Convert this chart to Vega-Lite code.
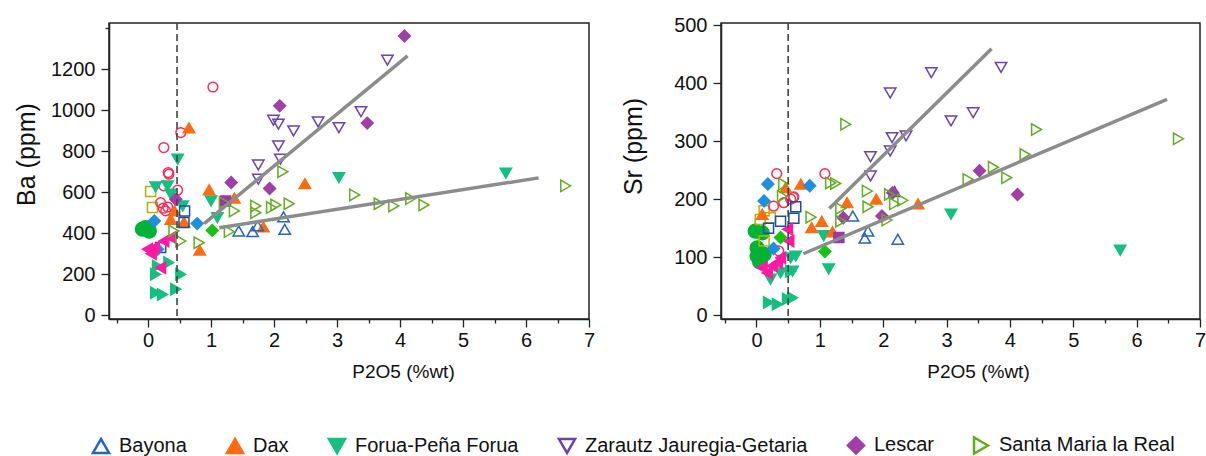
{
 "$schema": "https://vega.github.io/schema/vega-lite/v6.json",
 "padding": {"left": 13, "top": 14, "right": 4, "bottom": 0},
 "bounds": "flush",
 "spacing": 132,
 "config": {
  "view": {"stroke": "#222", "strokeWidth": 1.5},
  "font": "Liberation Sans",
  "axis": {"grid": false, "domainColor": "#222", "tickColor": "#222", "labelColor": "#111", "titleColor": "#111", "labelFontSize": 20, "titleFontWeight": "normal", "domainWidth": 1.5, "tickWidth": 1.3, "labelFont": "Liberation Sans", "titleFont": "Liberation Sans"},
  "legend": {"labelFont": "Liberation Sans"}
 },
 "datasets": {
  "pts": [
   {"panel":"Ba","site":"Green circle","p":-0.04,"v":427},{"panel":"Ba","site":"Green circle","p":-0.09,"v":420},{"panel":"Ba","site":"Green circle","p":0.02,"v":411},
   {"panel":"Ba","site":"Teal triangle","p":0.15,"v":240},{"panel":"Ba","site":"Teal triangle","p":0.33,"v":257},{"panel":"Ba","site":"Teal triangle","p":0.52,"v":200},{"panel":"Ba","site":"Teal triangle","p":0.12,"v":200},{"panel":"Ba","site":"Teal triangle","p":0.12,"v":110},{"panel":"Ba","site":"Teal triangle","p":0.23,"v":102},{"panel":"Ba","site":"Teal triangle","p":0.44,"v":127},
   {"panel":"Ba","site":"Olive square","p":0.04,"v":603},{"panel":"Ba","site":"Olive square","p":0.07,"v":525},
   {"panel":"Ba","site":"Red circle","p":1.03,"v":1113},{"panel":"Ba","site":"Red circle","p":0.52,"v":891},{"panel":"Ba","site":"Red circle","p":0.25,"v":818},{"panel":"Ba","site":"Red circle","p":0.32,"v":696},{"panel":"Ba","site":"Red circle","p":0.33,"v":688},{"panel":"Ba","site":"Red circle","p":0.47,"v":610},{"panel":"Ba","site":"Red circle","p":0.25,"v":631},{"panel":"Ba","site":"Red circle","p":0.2,"v":549},{"panel":"Ba","site":"Red circle","p":0.24,"v":522},{"panel":"Ba","site":"Red circle","p":0.28,"v":509},{"panel":"Ba","site":"Red circle","p":0.31,"v":528},
   {"panel":"Ba","site":"Forua-Peña Forua","p":5.68,"v":693},{"panel":"Ba","site":"Forua-Peña Forua","p":3.03,"v":671},{"panel":"Ba","site":"Forua-Peña Forua","p":1.0,"v":558},{"panel":"Ba","site":"Forua-Peña Forua","p":1.1,"v":476},{"panel":"Ba","site":"Forua-Peña Forua","p":0.47,"v":761},{"panel":"Ba","site":"Forua-Peña Forua","p":0.12,"v":626},{"panel":"Ba","site":"Forua-Peña Forua","p":0.31,"v":631},{"panel":"Ba","site":"Forua-Peña Forua","p":0.36,"v":590},{"panel":"Ba","site":"Forua-Peña Forua","p":0.55,"v":533},
   {"panel":"Ba","site":"Dax","p":0.65,"v":914},{"panel":"Ba","site":"Dax","p":0.97,"v":612},{"panel":"Ba","site":"Dax","p":1.37,"v":571},{"panel":"Ba","site":"Dax","p":2.49,"v":642},{"panel":"Ba","site":"Dax","p":1.83,"v":431},{"panel":"Ba","site":"Dax","p":0.82,"v":318},{"panel":"Ba","site":"Dax","p":0.42,"v":509},{"panel":"Ba","site":"Dax","p":0.36,"v":468},{"panel":"Ba","site":"Dax","p":0.57,"v":455},
   {"panel":"Ba","site":"Navy square","p":0.57,"v":452},{"panel":"Ba","site":"Navy square","p":0.58,"v":509},{"panel":"Ba","site":"Navy square","p":0.2,"v":330},
   {"panel":"Ba","site":"Blue diamond","p":0.78,"v":447},{"panel":"Ba","site":"Blue diamond","p":0.1,"v":460},{"panel":"Ba","site":"Blue diamond","p":0.15,"v":322},
   {"panel":"Ba","site":"Pink triangle","p":-0.01,"v":322},{"panel":"Ba","site":"Pink triangle","p":0.1,"v":330},{"panel":"Ba","site":"Pink triangle","p":0.25,"v":362},{"panel":"Ba","site":"Pink triangle","p":0.36,"v":379},{"panel":"Ba","site":"Pink triangle","p":0.2,"v":232},{"panel":"Ba","site":"Pink triangle","p":0.05,"v":300},
   {"panel":"Ba","site":"Green diamond","p":1.02,"v":414},
   {"panel":"Ba","site":"Purple square","p":1.23,"v":557},
   {"panel":"Ba","site":"Bayona","p":1.44,"v":411},{"panel":"Ba","site":"Bayona","p":1.66,"v":408},{"panel":"Ba","site":"Bayona","p":1.74,"v":436},{"panel":"Ba","site":"Bayona","p":2.15,"v":480},{"panel":"Ba","site":"Bayona","p":2.17,"v":419},
   {"panel":"Ba","site":"Zarautz Jauregia-Getaria","p":3.8,"v":1244},{"panel":"Ba","site":"Zarautz Jauregia-Getaria","p":1.99,"v":951},{"panel":"Ba","site":"Zarautz Jauregia-Getaria","p":2.07,"v":932},{"panel":"Ba","site":"Zarautz Jauregia-Getaria","p":2.31,"v":899},{"panel":"Ba","site":"Zarautz Jauregia-Getaria","p":2.7,"v":943},{"panel":"Ba","site":"Zarautz Jauregia-Getaria","p":3.03,"v":915},{"panel":"Ba","site":"Zarautz Jauregia-Getaria","p":3.38,"v":993},{"panel":"Ba","site":"Zarautz Jauregia-Getaria","p":2.07,"v":826},{"panel":"Ba","site":"Zarautz Jauregia-Getaria","p":2.1,"v":761},{"panel":"Ba","site":"Zarautz Jauregia-Getaria","p":1.75,"v":733},{"panel":"Ba","site":"Zarautz Jauregia-Getaria","p":1.75,"v":663},
   {"panel":"Ba","site":"Lescar","p":4.07,"v":1362},{"panel":"Ba","site":"Lescar","p":2.09,"v":1021},{"panel":"Ba","site":"Lescar","p":3.48,"v":937},{"panel":"Ba","site":"Lescar","p":1.32,"v":647},{"panel":"Ba","site":"Lescar","p":1.93,"v":618},{"panel":"Ba","site":"Lescar","p":0.44,"v":566},
   {"panel":"Ba","site":"Santa Maria la Real","p":2.14,"v":700},{"panel":"Ba","site":"Santa Maria la Real","p":3.28,"v":587},{"panel":"Ba","site":"Santa Maria la Real","p":1.21,"v":549},{"panel":"Ba","site":"Santa Maria la Real","p":1.37,"v":509},{"panel":"Ba","site":"Santa Maria la Real","p":1.71,"v":533},{"panel":"Ba","site":"Santa Maria la Real","p":1.71,"v":500},{"panel":"Ba","site":"Santa Maria la Real","p":2.03,"v":538},{"panel":"Ba","site":"Santa Maria la Real","p":1.96,"v":525},{"panel":"Ba","site":"Santa Maria la Real","p":2.24,"v":544},{"panel":"Ba","site":"Santa Maria la Real","p":3.67,"v":544},{"panel":"Ba","site":"Santa Maria la Real","p":3.9,"v":533},{"panel":"Ba","site":"Santa Maria la Real","p":4.17,"v":569},{"panel":"Ba","site":"Santa Maria la Real","p":4.38,"v":538},{"panel":"Ba","site":"Santa Maria la Real","p":1.29,"v":408},{"panel":"Ba","site":"Santa Maria la Real","p":0.81,"v":354},{"panel":"Ba","site":"Santa Maria la Real","p":0.52,"v":362},{"panel":"Ba","site":"Santa Maria la Real","p":0.41,"v":411},{"panel":"Ba","site":"Santa Maria la Real","p":6.63,"v":631},

   {"panel":"Sr","site":"Green circle","p":-0.02,"v":145},{"panel":"Sr","site":"Green circle","p":0.09,"v":142},{"panel":"Sr","site":"Green circle","p":0.01,"v":116},{"panel":"Sr","site":"Green circle","p":0.01,"v":102},{"panel":"Sr","site":"Green circle","p":0.12,"v":105},{"panel":"Sr","site":"Green circle","p":0.05,"v":92},
   {"panel":"Sr","site":"Teal triangle","p":0.19,"v":22},{"panel":"Sr","site":"Teal triangle","p":0.33,"v":19},{"panel":"Sr","site":"Teal triangle","p":0.49,"v":28},{"panel":"Sr","site":"Teal triangle","p":0.57,"v":30},{"panel":"Sr","site":"Teal triangle","p":0.54,"v":76},
   {"panel":"Sr","site":"Olive square","p":0.12,"v":180},{"panel":"Sr","site":"Olive square","p":0.06,"v":165},{"panel":"Sr","site":"Olive square","p":0.22,"v":168},{"panel":"Sr","site":"Olive square","p":0.12,"v":128},
   {"panel":"Sr","site":"Red circle","p":1.08,"v":244},{"panel":"Sr","site":"Red circle","p":0.58,"v":203},{"panel":"Sr","site":"Red circle","p":0.32,"v":244},{"panel":"Sr","site":"Red circle","p":0.27,"v":188},{"panel":"Sr","site":"Red circle","p":0.43,"v":194},{"panel":"Sr","site":"Red circle","p":0.54,"v":200},{"panel":"Sr","site":"Red circle","p":0.59,"v":204},{"panel":"Sr","site":"Red circle","p":0.35,"v":111},
   {"panel":"Sr","site":"Forua-Peña Forua","p":3.07,"v":174},{"panel":"Sr","site":"Forua-Peña Forua","p":5.74,"v":112},{"panel":"Sr","site":"Forua-Peña Forua","p":1.06,"v":137},{"panel":"Sr","site":"Forua-Peña Forua","p":1.14,"v":80},{"panel":"Sr","site":"Forua-Peña Forua","p":0.54,"v":99},{"panel":"Sr","site":"Forua-Peña Forua","p":0.62,"v":102},{"panel":"Sr","site":"Forua-Peña Forua","p":0.38,"v":73},{"panel":"Sr","site":"Forua-Peña Forua","p":0.57,"v":76},{"panel":"Sr","site":"Forua-Peña Forua","p":0.22,"v":62},
   {"panel":"Sr","site":"Dax","p":0.7,"v":226},{"panel":"Sr","site":"Dax","p":1.89,"v":200},{"panel":"Sr","site":"Dax","p":1.43,"v":194},{"panel":"Sr","site":"Dax","p":2.55,"v":192},{"panel":"Sr","site":"Dax","p":1.03,"v":162},{"panel":"Sr","site":"Dax","p":0.87,"v":151},{"panel":"Sr","site":"Dax","p":1.2,"v":144},{"panel":"Sr","site":"Dax","p":0.46,"v":220},{"panel":"Sr","site":"Dax","p":0.09,"v":174},
   {"panel":"Sr","site":"Navy square","p":0.62,"v":187},{"panel":"Sr","site":"Navy square","p":0.59,"v":167},{"panel":"Sr","site":"Navy square","p":0.38,"v":162},{"panel":"Sr","site":"Navy square","p":0.19,"v":150},
   {"panel":"Sr","site":"Blue diamond","p":0.84,"v":223},{"panel":"Sr","site":"Blue diamond","p":0.18,"v":226},{"panel":"Sr","site":"Blue diamond","p":0.12,"v":197},{"panel":"Sr","site":"Blue diamond","p":0.27,"v":115},
   {"panel":"Sr","site":"Pink triangle","p":0.49,"v":148},{"panel":"Sr","site":"Pink triangle","p":0.51,"v":128},{"panel":"Sr","site":"Pink triangle","p":0.09,"v":82},{"panel":"Sr","site":"Pink triangle","p":0.25,"v":85},{"panel":"Sr","site":"Pink triangle","p":0.33,"v":91},{"panel":"Sr","site":"Pink triangle","p":0.38,"v":99},{"panel":"Sr","site":"Pink triangle","p":0.17,"v":73},
   {"panel":"Sr","site":"Green diamond","p":1.08,"v":110},{"panel":"Sr","site":"Green diamond","p":0.38,"v":134},
   {"panel":"Sr","site":"Purple square","p":1.3,"v":134},
   {"panel":"Sr","site":"Bayona","p":2.18,"v":213},{"panel":"Sr","site":"Bayona","p":1.52,"v":171},{"panel":"Sr","site":"Bayona","p":1.76,"v":145},{"panel":"Sr","site":"Bayona","p":1.71,"v":133},{"panel":"Sr","site":"Bayona","p":2.23,"v":131},
   {"panel":"Sr","site":"Zarautz Jauregia-Getaria","p":2.76,"v":418},{"panel":"Sr","site":"Zarautz Jauregia-Getaria","p":3.86,"v":427},{"panel":"Sr","site":"Zarautz Jauregia-Getaria","p":2.11,"v":383},{"panel":"Sr","site":"Zarautz Jauregia-Getaria","p":3.07,"v":335},{"panel":"Sr","site":"Zarautz Jauregia-Getaria","p":3.42,"v":349},{"panel":"Sr","site":"Zarautz Jauregia-Getaria","p":2.14,"v":306},{"panel":"Sr","site":"Zarautz Jauregia-Getaria","p":2.36,"v":309},{"panel":"Sr","site":"Zarautz Jauregia-Getaria","p":2.11,"v":283},{"panel":"Sr","site":"Zarautz Jauregia-Getaria","p":1.8,"v":273},{"panel":"Sr","site":"Zarautz Jauregia-Getaria","p":1.8,"v":240},
   {"panel":"Sr","site":"Lescar","p":3.52,"v":249},{"panel":"Sr","site":"Lescar","p":4.12,"v":208},{"panel":"Sr","site":"Lescar","p":2.15,"v":211},{"panel":"Sr","site":"Lescar","p":1.37,"v":168},{"panel":"Sr","site":"Lescar","p":1.98,"v":171},
   {"panel":"Sr","site":"Santa Maria la Real","p":1.41,"v":329},{"panel":"Sr","site":"Santa Maria la Real","p":4.42,"v":320},{"panel":"Sr","site":"Santa Maria la Real","p":4.24,"v":277},{"panel":"Sr","site":"Santa Maria la Real","p":3.74,"v":255},{"panel":"Sr","site":"Santa Maria la Real","p":3.95,"v":237},{"panel":"Sr","site":"Santa Maria la Real","p":3.34,"v":234},{"panel":"Sr","site":"Santa Maria la Real","p":1.17,"v":228},{"panel":"Sr","site":"Santa Maria la Real","p":1.25,"v":227},{"panel":"Sr","site":"Santa Maria la Real","p":1.75,"v":214},{"panel":"Sr","site":"Santa Maria la Real","p":2.1,"v":208},{"panel":"Sr","site":"Santa Maria la Real","p":2.31,"v":198},{"panel":"Sr","site":"Santa Maria la Real","p":2.18,"v":192},{"panel":"Sr","site":"Santa Maria la Real","p":1.76,"v":187},{"panel":"Sr","site":"Santa Maria la Real","p":1.33,"v":184},{"panel":"Sr","site":"Santa Maria la Real","p":0.86,"v":169},{"panel":"Sr","site":"Santa Maria la Real","p":1.33,"v":162},{"panel":"Sr","site":"Santa Maria la Real","p":2.06,"v":164},{"panel":"Sr","site":"Santa Maria la Real","p":6.66,"v":304},{"panel":"Sr","site":"Santa Maria la Real","p":0.43,"v":226},{"panel":"Sr","site":"Santa Maria la Real","p":0.41,"v":205}
  ],
  "fits": [
   {"panel":"Ba","id":"a","p":0.89,"v":447},{"panel":"Ba","id":"a","p":4.12,"v":1265},
   {"panel":"Ba","id":"b","p":1.13,"v":427},{"panel":"Ba","id":"b","p":6.2,"v":670},
   {"panel":"Sr","id":"a","p":1.15,"v":184},{"panel":"Sr","id":"a","p":3.71,"v":459},
   {"panel":"Sr","id":"b","p":0.74,"v":106},{"panel":"Sr","id":"b","p":6.48,"v":372}
  ],
  "dash": [{"panel":"Ba","p":0.46},{"panel":"Sr","p":0.5}]
 },
 "hconcat": [
  {
   "width": 480, "height": 296,
   "resolve": {"axis": {"x": "independent"}},
   "layer": [
    {
     "data": {"name": "pts"},
     "transform": [{"filter": "datum.panel === 'Ba'"}],
     "mark": {"type": "point", "strokeWidth": 1.5, "opacity": 1},
     "encoding": {
      "x": {"field": "p", "type": "quantitative", "scale": {"domain": [-0.62, 7], "nice": false, "zero": false},
        "axis": {"orient": "bottom", "values": [0,1,2,3,4,5,6,7], "format": "d", "tickSize": 8, "labelOverlap": false, "labelFlush": false, "labelPadding": 3, "title": "P2O5 (%wt)", "titleFontSize": 19, "titleX": 294, "titleY": 52, "titleBaseline": "middle"}},
      "y": {"field": "v", "type": "quantitative", "scale": {"domain": [-18, 1425], "nice": false, "zero": false},
        "axis": {"values": [0,100,200,300,400,500,600,700,800,900,1000,1100,1200,1300,1400], "labelOverlap": false, "labelExpr": "datum.value % 200 === 0 && datum.value < 1300 ? format(datum.value, 'd') : ''", "tickSize": {"condition": {"test": "datum.value % 200 === 0 && datum.value < 1300", "value": 8}, "value": 4}, "labelPadding": 6, "title": "Ba (ppm)", "titleFontSize": 25, "titleX": -83, "titleY": 131, "titleBaseline": "middle"}},
      "shape": {"field": "site", "type": "nominal", "scale": {"domain": ["Bayona","Dax","Forua-Peña Forua","Zarautz Jauregia-Getaria","Lescar","Santa Maria la Real","Red circle","Blue diamond","Navy square","Olive square","Green circle","Pink triangle","Green diamond","Teal triangle","Purple square"], "range": ["triangle-up","triangle-up","triangle-down","triangle-down","diamond","triangle-right","circle","diamond","square","square","circle","triangle-left","diamond","triangle-right","square"]},
        "legend": {"values": ["Bayona","Dax","Forua-Peña Forua","Zarautz Jauregia-Getaria","Lescar","Santa Maria la Real"], "title": null, "orient": "none", "legendX": -18, "legendY": 412, "direction": "horizontal", "labelFontSize": 20, "labelLimit": 400, "symbolSize": 260, "symbolStrokeWidth": 2.5, "columnPadding": 34, "labelOffset": 8, "labelColor": "#111"}},
      "stroke": {"field": "site", "type": "nominal", "scale": {"domain": ["Bayona","Dax","Forua-Peña Forua","Zarautz Jauregia-Getaria","Lescar","Santa Maria la Real","Red circle","Blue diamond","Navy square","Olive square","Green circle","Pink triangle","Green diamond","Teal triangle","Purple square"], "range": ["#2463c4","#ff6b12","#13c07f","#6b41b5","#a03fa6","#62ad22","#ff2a55","#1d8fe0","#1a4f9e","#b5b300","#00b336","#ff1aa3","#14c414","#13c07f","#9b35a8"]},
        "legend": {"values": ["Bayona","Dax","Forua-Peña Forua","Zarautz Jauregia-Getaria","Lescar","Santa Maria la Real"], "title": null, "orient": "none", "legendX": -18, "legendY": 412, "direction": "horizontal", "labelFontSize": 20, "labelLimit": 400, "symbolSize": 260, "symbolStrokeWidth": 2.5, "columnPadding": 34, "labelOffset": 8, "labelColor": "#111"}},
      "fill": {"field": "site", "type": "nominal", "scale": {"domain": ["Bayona","Dax","Forua-Peña Forua","Zarautz Jauregia-Getaria","Lescar","Santa Maria la Real","Red circle","Blue diamond","Navy square","Olive square","Green circle","Pink triangle","Green diamond","Teal triangle","Purple square"], "range": ["transparent","#ff6b12","#13c07f","transparent","#a03fa6","transparent","transparent","#1d8fe0","transparent","transparent","#00b336","#ff1aa3","#14c414","#13c07f","#9b35a8"]},
        "legend": {"values": ["Bayona","Dax","Forua-Peña Forua","Zarautz Jauregia-Getaria","Lescar","Santa Maria la Real"], "title": null, "orient": "none", "legendX": -18, "legendY": 412, "direction": "horizontal", "labelFontSize": 20, "labelLimit": 400, "symbolSize": 260, "symbolStrokeWidth": 2.5, "columnPadding": 34, "labelOffset": 8, "labelColor": "#111"}},
      "size": {"condition": [{"test": "datum.site === 'Green circle'", "value": 190}, {"test": "datum.site === 'Red circle'", "value": 95}, {"test": "datum.site === 'Navy square' || datum.site === 'Olive square' || datum.site === 'Purple square'", "value": 100}, {"test": "datum.site === 'Lescar' || datum.site === 'Blue diamond' || datum.site === 'Green diamond'", "value": 140}], "value": 130}
     }
    },
    {
     "data": {"name": "fits"},
     "transform": [{"filter": "datum.panel === 'Ba'"}],
     "mark": {"type": "line", "color": "#8c8c8c", "strokeWidth": 3.5},
     "encoding": {"x": {"field": "p", "type": "quantitative", "axis": null}, "y": {"field": "v", "type": "quantitative"}, "detail": {"field": "id"}}
    },
    {
     "data": {"name": "dash"},
     "transform": [{"filter": "datum.panel === 'Ba'"}],
     "mark": {"type": "rule", "color": "#444", "strokeWidth": 1.6, "strokeDash": [7, 4]},
     "encoding": {"x": {"field": "p", "type": "quantitative",
        "axis": {"orient": "bottom", "values": [-0.5,0.5,1.5,2.5,3.5,4.5,5.5,6.5], "labels": false, "domain": false, "tickSize": 4, "title": null}}}
    }
   ]
  },
  {
   "width": 479, "height": 296,
   "resolve": {"axis": {"x": "independent"}},
   "layer": [
    {
     "data": {"name": "pts"},
     "transform": [{"filter": "datum.panel === 'Sr'"}],
     "mark": {"type": "point", "strokeWidth": 1.5, "opacity": 1},
     "encoding": {
      "x": {"field": "p", "type": "quantitative", "scale": {"domain": [-0.56, 7], "nice": false, "zero": false},
        "axis": {"orient": "bottom", "values": [0,1,2,3,4,5,6,7], "format": "d", "tickSize": 8, "labelOverlap": false, "labelFlush": false, "labelPadding": 3, "title": "P2O5 (%wt)", "titleFontSize": 19, "titleX": 257, "titleY": 52, "titleBaseline": "middle"}},
      "y": {"field": "v", "type": "quantitative", "scale": {"domain": [-6.4, 503.5], "nice": false, "zero": false},
        "axis": {"values": [0,50,100,150,200,250,300,350,400,450,500], "labelOverlap": false, "labelExpr": "datum.value % 100 === 0 ? format(datum.value, 'd') : ''", "tickSize": {"condition": {"test": "datum.value % 100 === 0", "value": 8}, "value": 4}, "labelPadding": 6, "title": "Sr (ppm)", "titleFontSize": 25, "titleX": -88, "titleY": 123, "titleBaseline": "middle"}},
      "shape": {"field": "site", "type": "nominal", "scale": {"domain": ["Bayona","Dax","Forua-Peña Forua","Zarautz Jauregia-Getaria","Lescar","Santa Maria la Real","Red circle","Blue diamond","Navy square","Olive square","Green circle","Pink triangle","Green diamond","Teal triangle","Purple square"], "range": ["triangle-up","triangle-up","triangle-down","triangle-down","diamond","triangle-right","circle","diamond","square","square","circle","triangle-left","diamond","triangle-right","square"]},
        "legend": {"values": ["Bayona","Dax","Forua-Peña Forua","Zarautz Jauregia-Getaria","Lescar","Santa Maria la Real"], "title": null, "orient": "none", "legendX": -18, "legendY": 412, "direction": "horizontal", "labelFontSize": 20, "labelLimit": 400, "symbolSize": 260, "symbolStrokeWidth": 2.5, "columnPadding": 34, "labelOffset": 8, "labelColor": "#111"}},
      "stroke": {"field": "site", "type": "nominal", "scale": {"domain": ["Bayona","Dax","Forua-Peña Forua","Zarautz Jauregia-Getaria","Lescar","Santa Maria la Real","Red circle","Blue diamond","Navy square","Olive square","Green circle","Pink triangle","Green diamond","Teal triangle","Purple square"], "range": ["#2463c4","#ff6b12","#13c07f","#6b41b5","#a03fa6","#62ad22","#ff2a55","#1d8fe0","#1a4f9e","#b5b300","#00b336","#ff1aa3","#14c414","#13c07f","#9b35a8"]},
        "legend": {"values": ["Bayona","Dax","Forua-Peña Forua","Zarautz Jauregia-Getaria","Lescar","Santa Maria la Real"], "title": null, "orient": "none", "legendX": -18, "legendY": 412, "direction": "horizontal", "labelFontSize": 20, "labelLimit": 400, "symbolSize": 260, "symbolStrokeWidth": 2.5, "columnPadding": 34, "labelOffset": 8, "labelColor": "#111"}},
      "fill": {"field": "site", "type": "nominal", "scale": {"domain": ["Bayona","Dax","Forua-Peña Forua","Zarautz Jauregia-Getaria","Lescar","Santa Maria la Real","Red circle","Blue diamond","Navy square","Olive square","Green circle","Pink triangle","Green diamond","Teal triangle","Purple square"], "range": ["transparent","#ff6b12","#13c07f","transparent","#a03fa6","transparent","transparent","#1d8fe0","transparent","transparent","#00b336","#ff1aa3","#14c414","#13c07f","#9b35a8"]},
        "legend": {"values": ["Bayona","Dax","Forua-Peña Forua","Zarautz Jauregia-Getaria","Lescar","Santa Maria la Real"], "title": null, "orient": "none", "legendX": -18, "legendY": 412, "direction": "horizontal", "labelFontSize": 20, "labelLimit": 400, "symbolSize": 260, "symbolStrokeWidth": 2.5, "columnPadding": 34, "labelOffset": 8, "labelColor": "#111"}},
      "size": {"condition": [{"test": "datum.site === 'Green circle'", "value": 190}, {"test": "datum.site === 'Red circle'", "value": 95}, {"test": "datum.site === 'Navy square' || datum.site === 'Olive square' || datum.site === 'Purple square'", "value": 100}, {"test": "datum.site === 'Lescar' || datum.site === 'Blue diamond' || datum.site === 'Green diamond'", "value": 140}], "value": 130}
     }
    },
    {
     "data": {"name": "fits"},
     "transform": [{"filter": "datum.panel === 'Sr'"}],
     "mark": {"type": "line", "color": "#8c8c8c", "strokeWidth": 3.5},
     "encoding": {"x": {"field": "p", "type": "quantitative", "axis": null}, "y": {"field": "v", "type": "quantitative"}, "detail": {"field": "id"}}
    },
    {
     "data": {"name": "dash"},
     "transform": [{"filter": "datum.panel === 'Sr'"}],
     "mark": {"type": "rule", "color": "#444", "strokeWidth": 1.6, "strokeDash": [7, 4]},
     "encoding": {"x": {"field": "p", "type": "quantitative",
        "axis": {"orient": "bottom", "values": [-0.5,0.5,1.5,2.5,3.5,4.5,5.5,6.5], "labels": false, "domain": false, "tickSize": 4, "title": null}}}
    }
   ]
  }
 ],
 "resolve": {"scale": {"x": "independent", "y": "independent", "shape": "shared", "stroke": "shared", "fill": "shared"}}
}
